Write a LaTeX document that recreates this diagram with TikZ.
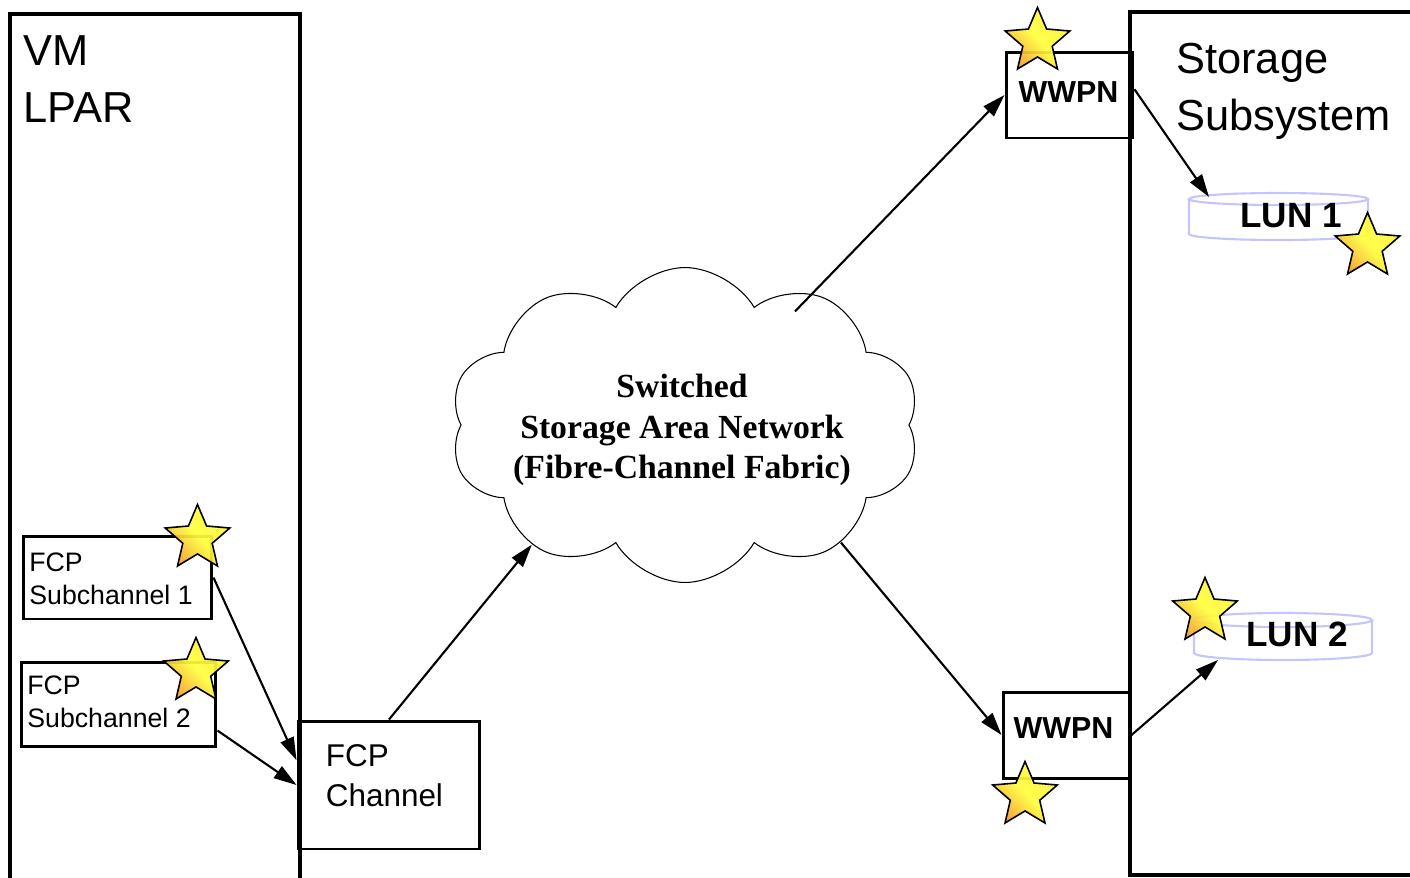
\documentclass[tikz,border=0pt]{standalone}
\usepackage{fontspec}
\setmainfont{Liberation Sans}
\newfontfamily\cloudfont{Liberation Serif}
\usepackage{tikz}
\usetikzlibrary{arrows.meta,shapes.geometric,shapes.symbols,positioning,calc}

\definecolor{lunline}{RGB}{196,196,255}
\definecolor{starorange}{RGB}{245,160,45}
\definecolor{staryellow}{RGB}{255,255,60}

\tikzset{
  frame/.style={line width=1.8pt},
  box/.style={draw, rectangle, line width=1.7pt, inner sep=0pt},
  link/.style={line width=1.2pt, -{Triangle[length=13pt,width=8pt]}},
  lun/.style={draw=lunline, line width=1.2pt},
  starmark/.style={star, star points=5, star point ratio=2.2, minimum size=1.36cm,
    inner sep=0pt, draw=black, line width=0.9pt, shading=axis, left color=starorange,
    right color=staryellow!85!starorange, middle color=staryellow,
    shading angle=135, fill opacity=0.92},
  bigtxt/.style={anchor=north west, inner sep=0pt, align=left,
    font=\fontsize{24.7}{32.5}\selectfont},
  subtxt/.style={anchor=north west, inner sep=0pt, align=left,
    font=\fontsize{15.2}{19.3}\selectfont},
  chantxt/.style={anchor=north west, inner sep=0pt, align=left,
    font=\fontsize{17.9}{22.7}\selectfont},
  wwpntxt/.style={anchor=base, inner sep=0pt, font=\bfseries\fontsize{17.3}{20}\selectfont},
  luntxt/.style={anchor=base, inner sep=0pt, font=\bfseries\fontsize{20}{24}\selectfont},
  santxt/.style={anchor=north, inner sep=0pt, align=center,
    font=\cloudfont\bfseries\fontsize{19.2}{23}\selectfont}
}

\begin{document}
\begin{tikzpicture}[x=0.02cm, y=-0.02cm]
            \useasboundingbox (0,0) rectangle (1410,877);
            % VM LPAR side
            \draw[frame] (10,880) -- (10,14) -- (300,14) -- (300,880);
            \node[bigtxt] (lpar) at (23,35) {VM\\LPAR};
            \node[box, minimum width=3.78cm, minimum height=1.66cm] (sub1) at (117.5,577.5) {};
            \node[box, minimum width=3.9cm, minimum height=1.68cm] (sub2) at (118.5,704) {};
            \node[box, minimum width=3.64cm, minimum height=2.56cm] (fcpch) at (389,785) {};
            \node[subtxt] (sub1txt) at (29,552) {FCP\\Subchannel 1};
            \node[subtxt] (sub2txt) at (27,675) {FCP\\Subchannel 2};
            \node[chantxt] (fcpchtxt) at (325.5,744) {FCP\\Channel};
            % storage side
            \draw[frame] (1420,12) -- (1130,12) -- (1130,875) -- (1420,875);
            \node[bigtxt] (storage) at (1176,43) {Storage\\Subsystem};
            \node[box, minimum width=2.54cm, minimum height=1.72cm] (wwpn1) at (1069.5,95) {};
            \node[box, minimum width=2.54cm, minimum height=1.72cm] (wwpn2) at (1066.5,735) {};
            \node[wwpntxt] (wwpn1txt) at (1068.5,102) {WWPN};
            \node[wwpntxt] (wwpn2txt) at (1063.5,738) {WWPN};
            \draw[lun] (1278.5,199) ellipse [x radius=89.5, y radius=6];
            \draw[lun] (1189,199) -- (1189,234) arc[start angle=180, end angle=0, x radius=89.5, y radius=6] -- (1368,199);
            \draw[lun] (1283,620) ellipse [x radius=89, y radius=7];
            \draw[lun] (1194,620) -- (1194,653) arc[start angle=180, end angle=0, x radius=89, y radius=7] -- (1372,620);
            \coordinate (lun1) at (1209,197);
            \coordinate (lun2) at (1218,660);
            \node[luntxt] (lun1txt) at (1291,227) {LUN 1};
            \node[luntxt] (lun2txt) at (1297,646) {LUN 2};
            % fabric
            \node[cloud, cloud puffs=10, cloud puff arc=120, cloud ignores aspect, draw,
                  line width=0.6pt, minimum width=9.4cm, minimum height=6.3cm] (san) at (685,425) {};
            \node[santxt] (santxt) at (682,374) {Switched\\Storage Area Network\\(Fibre-Channel Fabric)};
            % links
            \draw[link] (sub1.east) -- (fcpch.165);
            \draw[link] (sub2.-15) -- (fcpch.west);
            \draw[link] (fcpch.north) -- (san.218);
            \draw[link, shorten <=90pt] (san.center) -- (wwpn1.west);
            \draw[link] (san.-37) -- (wwpn2.west);
            \draw[link] (wwpn1.5) -- (lun1);
            \draw[link] (wwpn2.east) -- (lun2);
            % stars
            \node[starmark] (star1) at (197.5,538.5) {};
            \node[starmark] (star2) at (196,671.5) {};
            \node[starmark] (star3) at (1037.5,41.5) {};
            \node[starmark] (star4) at (1367.5,246.5) {};
            \node[starmark] (star5) at (1205,611.5) {};
            \node[starmark] (star6) at (1025,795.5) {};
        \end{tikzpicture}
\end{document}
